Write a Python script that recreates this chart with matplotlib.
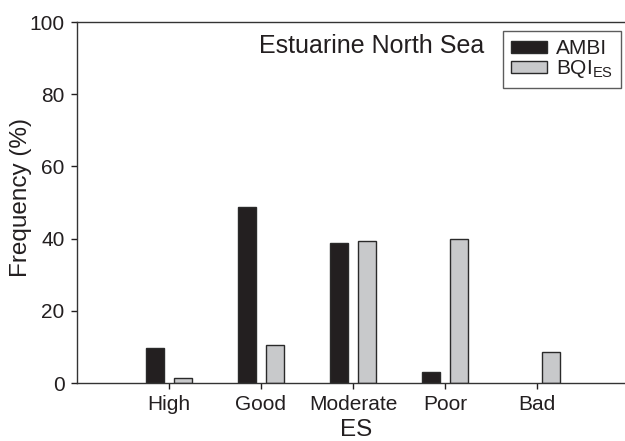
import matplotlib
matplotlib.use("Agg")
import matplotlib.pyplot as plt
import numpy as np

categories = ["High", "Good", "Moderate", "Poor", "Bad"]
ambi = [9.6, 48.7, 38.8, 3.0, 0.0]
bqi = [1.4, 10.5, 39.3, 39.8, 8.5]

plt.rcParams['font.family'] = ['Liberation Sans', 'DejaVu Sans']
plt.rcParams['mathtext.default'] = 'regular'

fig = plt.figure(figsize=(6.25, 4.41), dpi=100)
ax = fig.add_axes([0.1232, 0.1315, 0.8768, 0.8185])

x = np.arange(1, len(categories) + 1)
w = 0.19
off = 0.15
ec = '#2a2a2a'
ambi_arr = np.array(ambi, dtype=float)
bqi_arr = np.array(bqi, dtype=float)
ambi_plot = np.where(ambi_arr > 0, ambi_arr, np.nan)
bqi_plot = np.where(bqi_arr > 0, bqi_arr, np.nan)
ax.bar(x - off, ambi_plot, width=w, color='#231f20', edgecolor=ec, linewidth=1.0, label='AMBI')
ax.bar(x + off, bqi_plot, width=w, color='#c8c9cb', edgecolor=ec, linewidth=1.0, label='BQI$_{ES}$')

ax.set_xlim(0, 5.957)
ax.set_ylim(0, 100)
ax.set_xticks(x)
ax.set_xticklabels(categories)
ax.set_yticks([0, 20, 40, 60, 80, 100])
ax.tick_params(axis='both', labelsize=15, colors='#231f20', length=4.5, width=1.0, direction='out')
ax.tick_params(axis='x', pad=4)
ax.tick_params(axis='y', pad=4.5)
for s in ['left', 'bottom', 'top']:
    ax.spines[s].set_color('#333333')
    ax.spines[s].set_linewidth(1.0)
ax.spines['right'].set_visible(False)

ax.set_xlabel('ES', fontsize=17.5, color='#231f20')
ax.set_ylabel('Frequency (%)', fontsize=17.5, color='#231f20')
ax.xaxis.set_label_coords(0.510, -0.101)
ax.yaxis.set_label_coords(-0.083, 0.515)

ax.text(0.537, 0.914, 'Estuarine North Sea', transform=ax.transAxes, fontsize=18,
        color='#231f20', ha='center', va='baseline')

leg = ax.legend(loc='upper right', bbox_to_anchor=(0.992, 0.974), fontsize=15,
                frameon=True, fancybox=False, handlelength=1.75, handleheight=0.45,
                handletextpad=0.4, borderpad=0.38, labelspacing=0.0, borderaxespad=0.0)
leg.get_frame().set_edgecolor('#333333')
leg.get_frame().set_linewidth(1.0)
for t in leg.get_texts():
    t.set_color('#231f20')

fig.savefig('out.png', dpi=100)
